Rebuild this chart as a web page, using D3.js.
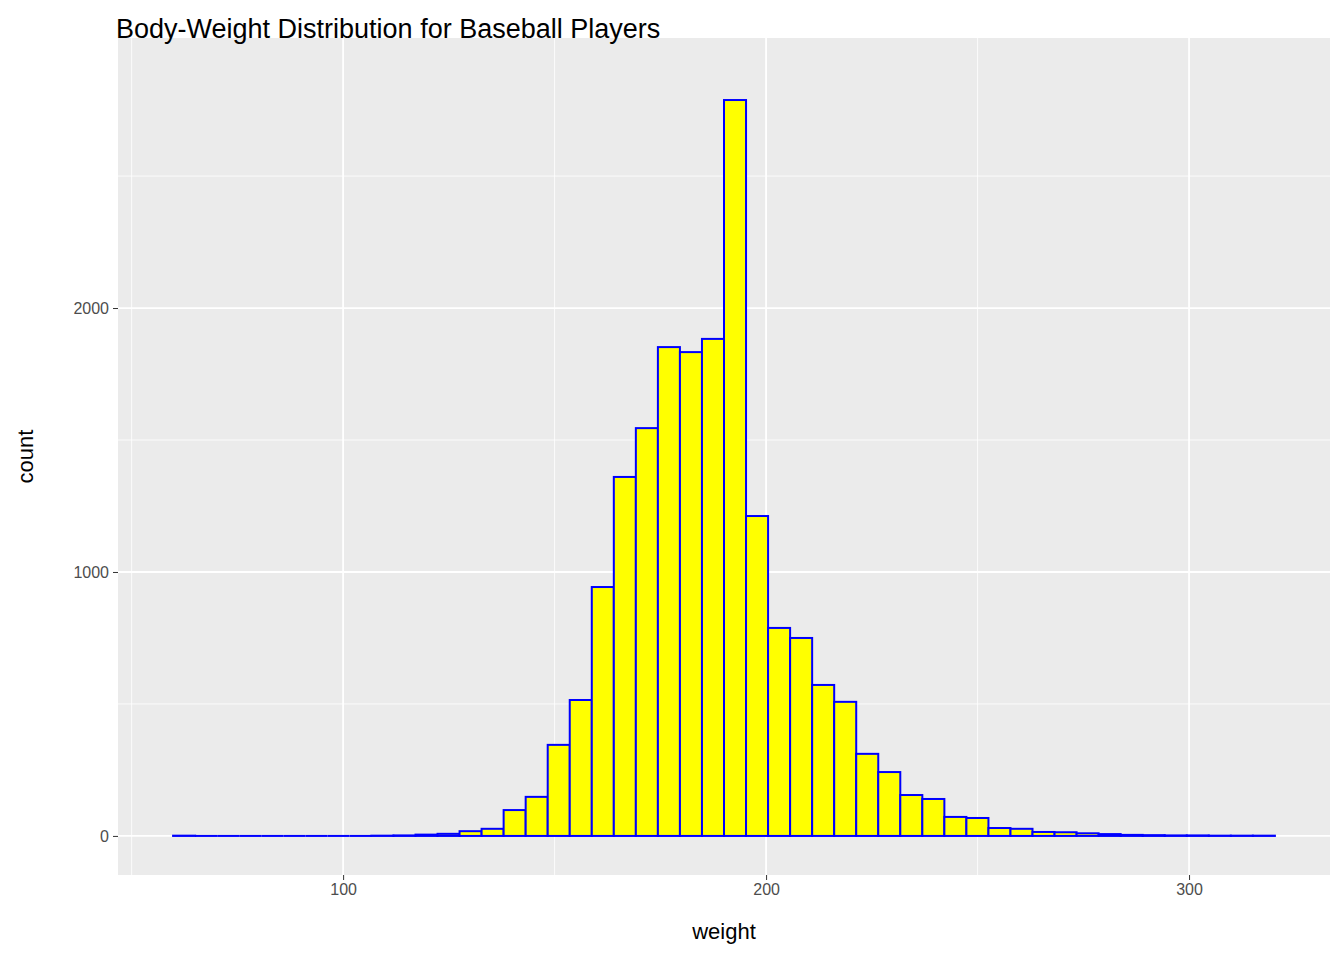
<!DOCTYPE html>
<html><head><meta charset="utf-8">
<script src="https://cdn.jsdelivr.net/npm/d3@7"></script>
<style>body{margin:0;background:#fff;font-family:"Liberation Sans",Arial,sans-serif}</style>
</head><body><div class="chart"></div>
<script>
var binStart = 59.8, binWidth = 5.21;
var counts = [1,0,0,0,0,0,0,0,0,1, 2,5,8,18,27,98,148,345,515,943,
  1360,1545,1852,1833,1883,2788,1212,788,750,572, 508,311,242,155,140,72,68,30,27,15,
  14,10,7,4,3,2,2,1,1,1];
var xTicks = [100, 200, 300], xMinor = [50, 150, 250];
var yTicks = [0, 1000, 2000], yMinor = [500, 1500, 2500];

var svg = d3.select(".chart").append("svg").attr("width", 1344).attr("height", 960);
var margin = {top: 38, right: 14, bottom: 85, left: 118};
var width = 1344 - margin.left - margin.right, height = 960 - margin.top - margin.bottom;

var bins = counts.map(function(c, i){ return {x0: binStart + i*binWidth, x1: binStart + (i+1)*binWidth, n: c}; });
var xlo = binStart, xhi = binStart + counts.length*binWidth;
var x = d3.scaleLinear().domain([xlo - 0.05*(xhi-xlo), xhi + 0.05*(xhi-xlo)]).range([0, width]);
var y = d3.scaleLinear().domain([-148, 3023]).range([height, 0]);

var g = svg.append("g").attr("transform", `translate(${margin.left},${margin.top})`);
g.append("rect").attr("width", width).attr("height", height).attr("fill", "#ebebeb");

g.selectAll(".vmin").data(xMinor).enter().append("line")
  .attr("x1", x).attr("x2", x).attr("y1", 0).attr("y2", height).attr("stroke", "#fff").attr("stroke-width", 0.8);
g.selectAll(".hmin").data(yMinor).enter().append("line")
  .attr("y1", y).attr("y2", y).attr("x1", 0).attr("x2", width).attr("stroke", "#fff").attr("stroke-width", 0.8);
g.selectAll(".vmaj").data(xTicks).enter().append("line")
  .attr("x1", x).attr("x2", x).attr("y1", 0).attr("y2", height).attr("stroke", "#fff").attr("stroke-width", 1.8);
g.selectAll(".hmaj").data(yTicks).enter().append("line")
  .attr("y1", y).attr("y2", y).attr("x1", 0).attr("x2", width).attr("stroke", "#fff").attr("stroke-width", 1.8);

g.selectAll(".bar").data(bins).enter().append("rect")
  .attr("x", function(d){ return x(d.x0); })
  .attr("width", function(d){ return x(d.x1) - x(d.x0); })
  .attr("y", function(d){ return y(d.n); })
  .attr("height", function(d){ return y(0) - y(d.n); })
  .attr("fill", "yellow").attr("stroke", "blue").attr("stroke-width", 2);
// zero-height bins still show as a line in ggplot
g.selectAll(".zero").data(bins.filter(function(d){ return d.n === 0; })).enter().append("line")
  .attr("x1", function(d){ return x(d.x0); }).attr("x2", function(d){ return x(d.x1); })
  .attr("y1", y(0)).attr("y2", y(0)).attr("stroke", "blue").attr("stroke-width", 2);

var xa = g.append("g").attr("transform", `translate(0,${height})`)
  .call(d3.axisBottom(x).tickValues(xTicks).tickFormat(d3.format("d")).tickSize(5).tickPadding(4));
var ya = g.append("g").call(d3.axisLeft(y).tickValues(yTicks).tickFormat(d3.format("d")).tickSize(5).tickPadding(4));
[xa, ya].forEach(function(a){
  a.select(".domain").remove();
  a.selectAll("line").attr("stroke", "#333").attr("stroke-width", 1);
  a.selectAll("text").attr("fill", "#4d4d4d").style("font-size", "16px").style("font-family", "Liberation Sans, Arial, sans-serif");
});

svg.append("text").attr("x", margin.left + width/2).attr("y", 939).attr("text-anchor", "middle")
  .style("font-size", "22px").text("weight");
svg.append("text").attr("transform", `translate(33,${margin.top + height/2}) rotate(-90)`).attr("text-anchor", "middle")
  .style("font-size", "22px").text("count");
svg.append("text").attr("x", 116).attr("y", 38).style("font-size", "27px").text("Body-Weight Distribution for Baseball Players");
</script></body></html>
